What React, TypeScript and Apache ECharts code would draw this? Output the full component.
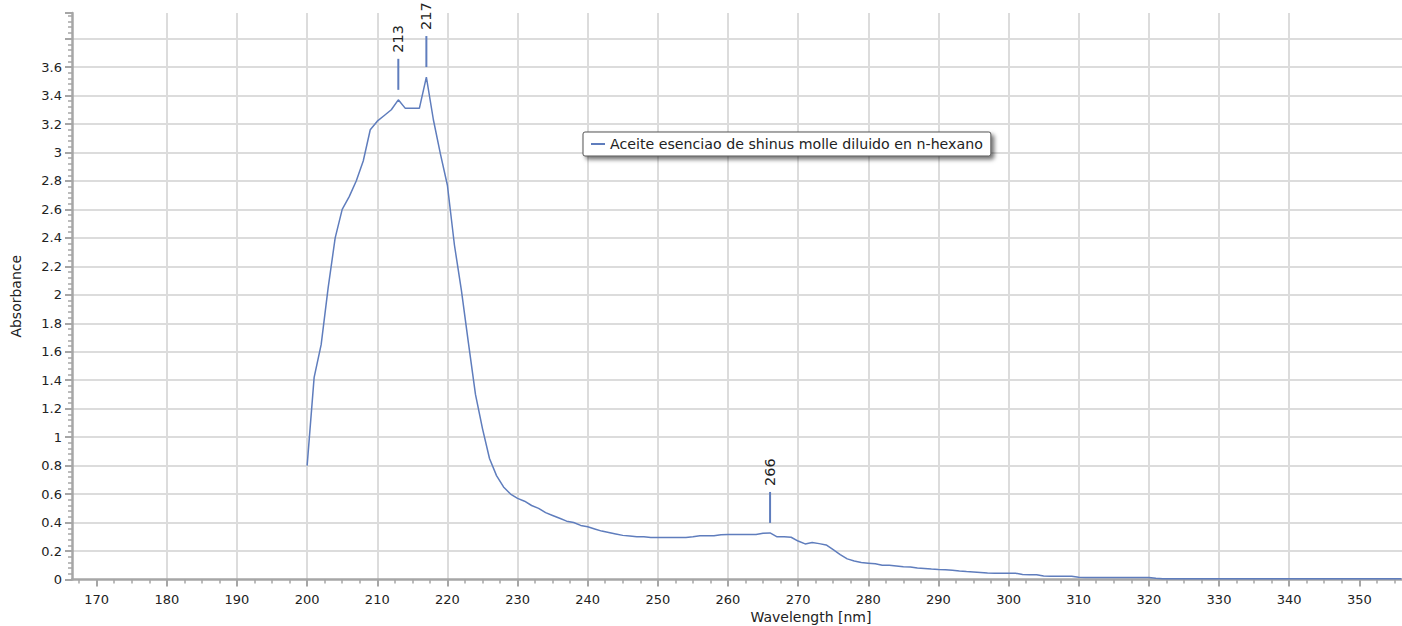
import React, { useEffect, useRef } from "react";
import * as echarts from "echarts";

const startWavelength = 200;
const absorbance: number[] = [
  0.8, 1.42, 1.65, 2.05, 2.4, 2.6, 2.69, 2.8, 2.94, 3.16,
  3.22, 3.26, 3.3, 3.37, 3.31, 3.31, 3.31, 3.53, 3.23, 2.99,
  2.77, 2.35, 2.03, 1.66, 1.3, 1.06, 0.85, 0.73, 0.65, 0.6,
  0.57, 0.55, 0.52, 0.5, 0.47, 0.45, 0.43, 0.41, 0.4, 0.38,
  0.37, 0.355, 0.34, 0.33, 0.32, 0.31, 0.305, 0.3, 0.3, 0.295,
  0.295, 0.295, 0.295, 0.295, 0.295, 0.3, 0.307, 0.307, 0.307, 0.315,
  0.316, 0.316, 0.316, 0.316, 0.316, 0.325, 0.327, 0.3, 0.3, 0.297,
  0.27, 0.25, 0.26, 0.252, 0.243, 0.21, 0.175, 0.145, 0.13, 0.12,
  0.115, 0.11, 0.1, 0.1, 0.095, 0.09, 0.088, 0.08, 0.077, 0.073,
  0.07, 0.068, 0.065, 0.06, 0.056, 0.053, 0.05, 0.046, 0.044, 0.044,
  0.044, 0.044, 0.035, 0.033, 0.033, 0.025, 0.023, 0.023, 0.023, 0.023,
  0.016, 0.014, 0.014, 0.014, 0.014, 0.014, 0.014, 0.014, 0.014, 0.014,
  0.014, 0.008, 0.006, 0.006, 0.006, 0.006, 0.006, 0.006, 0.006, 0.006,
  0.006, 0.006, 0.006, 0.006, 0.006, 0.006, 0.006, 0.006, 0.006, 0.006,
  0.006, 0.006, 0.006, 0.006, 0.006, 0.006, 0.006, 0.006, 0.006, 0.006,
  0.006, 0.006, 0.006, 0.006, 0.006, 0.006, 0.006,
];
const peakWavelengths: number[] = [213, 217, 266];
const xMajorTicks: number[] = [170, 180, 190, 200, 210, 220, 230, 240, 250, 260, 270, 280, 290, 300, 310, 320, 330, 340, 350];
const xMinorTicks: number[] = [
  167.5, 172.5, 175, 177.5, 182.5, 185, 187.5, 192.5, 195, 197.5, 202.5, 205, 207.5,
  212.5, 215, 217.5, 222.5, 225, 227.5, 232.5, 235, 237.5, 242.5, 245, 247.5,
  252.5, 255, 257.5, 262.5, 265, 267.5, 272.5, 275, 277.5, 282.5, 285, 287.5,
  292.5, 295, 297.5, 302.5, 305, 307.5, 312.5, 315, 317.5, 322.5, 325, 327.5,
  332.5, 335, 337.5, 342.5, 345, 347.5, 352.5, 355,
];
const seriesName = "Aceite esenciao de shinus molle diluido en n-hexano";
const xTitle = "Wavelength [nm]";
const yTitle = "Absorbance";

const X_MIN = 166.48;
const X_MAX = 356.09;
const Y_MAX = 3.98;
const LINE_COLOR = "#5f7dbd";
const AXIS_COLOR = "#a6a6a6";
const GRID_COLOR = "#dcdcdc";
const TEXT_COLOR = "#222";
const FONT = "DejaVu Sans";

export default function App() {
  const ref = useRef<HTMLDivElement>(null);
  useEffect(() => {
    if (!ref.current) return;
    const chart = echarts.init(ref.current, undefined, { renderer: "svg" });
    const lineData = absorbance.map((v, i) => [startWavelength + i, v]);
    const peakData = peakWavelengths.map((w) => [w, absorbance[w - startWavelength]]);
    chart.setOption({
      animation: false,
      backgroundColor: "#fff",
      grid: { left: 72, right: 0, top: 13, bottom: 46.5, containLabel: false },
      legend: {
        left: 583,
        top: 132,
        data: [seriesName],
        backgroundColor: "#fff",
        borderColor: "#555",
        borderWidth: 1,
        borderRadius: 2,
        padding: [5, 8, 5, 8],
        shadowColor: "rgba(0,0,0,0.55)",
        shadowBlur: 4,
        shadowOffsetX: 3,
        shadowOffsetY: 3,
        icon: "rect",
        itemWidth: 14,
        itemHeight: 2,
        textStyle: { fontFamily: FONT, fontSize: 14.2, color: TEXT_COLOR },
      },
      xAxis: [
        {
          type: "value",
          min: X_MIN,
          max: X_MAX,
          splitNumber: 19,
          axisLine: { show: true, onZero: false, lineStyle: { color: AXIS_COLOR, width: 2.5 } },
          axisTick: { show: true, customValues: xMajorTicks, length: 7, lineStyle: { color: AXIS_COLOR, width: 2 } },
          axisLabel: {
            customValues: xMajorTicks,
            margin: 13,
            fontFamily: FONT,
            fontSize: 13,
            color: TEXT_COLOR,
          },
          splitLine: { show: true, showMinLine: false, showMaxLine: false, lineStyle: { color: GRID_COLOR, width: 2 } },
        },
        {
          type: "value",
          min: X_MIN,
          max: X_MAX,
          position: "bottom",
          axisLine: { show: false },
          axisTick: { show: true, customValues: xMinorTicks, length: 4, lineStyle: { color: AXIS_COLOR, width: 1.5 } },
          axisLabel: { show: false },
          splitLine: { show: false },
        },
      ],
      yAxis: {
        type: "value",
        min: 0,
        max: Y_MAX,
        interval: 0.2,
        name: yTitle,
        nameLocation: "middle",
        nameGap: 49,
        nameTextStyle: { fontFamily: FONT, fontSize: 14, color: TEXT_COLOR },
        axisLine: { show: true, lineStyle: { color: AXIS_COLOR, width: 2.5 } },
        axisTick: { show: true, length: 7, lineStyle: { color: AXIS_COLOR, width: 2 } },
        minorTick: { show: true, splitNumber: 5, length: 4, lineStyle: { color: AXIS_COLOR, width: 1.5 } },
        axisLabel: {
          margin: 10,
          fontFamily: FONT,
          fontSize: 13,
          color: TEXT_COLOR,
          showMaxLabel: false,
          formatter: (v: number) => (v > 3.7 ? "" : String(Math.round(v * 10) / 10)),
        },
        splitLine: { show: true, showMinLine: false, showMaxLine: false, lineStyle: { color: GRID_COLOR, width: 2 } },
      },
      graphic: [
        {
          type: "text",
          x: 811,
          y: 617,
          style: {
            text: xTitle,
            font: `14px "${FONT}"`,
            fill: TEXT_COLOR,
            align: "center",
            verticalAlign: "middle",
          },
        },
      ],
      series: [
        {
          name: seriesName,
          type: "line",
          data: lineData,
          showSymbol: false,
          symbol: "none",
          lineStyle: { color: LINE_COLOR, width: 1.5 },
          itemStyle: { color: LINE_COLOR },
          z: 3,
        },
        {
          type: "custom",
          data: peakData,
          clip: false,
          silent: true,
          z: 4,
          renderItem: (params: any, api: any) => {
            const p = api.coord([api.value(0), api.value(1)]);
            return {
              type: "group",
              children: [
                {
                  type: "line",
                  shape: { x1: p[0], y1: p[1] - 10, x2: p[0], y2: p[1] - 41 },
                  style: { stroke: LINE_COLOR, lineWidth: 2 },
                },
                {
                  type: "text",
                  x: p[0],
                  y: p[1] - 47,
                  rotation: Math.PI / 2,
                  style: {
                    text: String(api.value(0)),
                    font: `14.5px "${FONT}"`,
                    fill: TEXT_COLOR,
                    align: "left",
                    verticalAlign: "middle",
                  },
                },
              ],
            };
          },
        },
      ],
    });
    return () => chart.dispose();
  }, []);
  return (
    <div
      ref={ref}
      style={{ position: "fixed", left: 0, top: 0, width: 1402, height: 626 }}
    />
  );
}
